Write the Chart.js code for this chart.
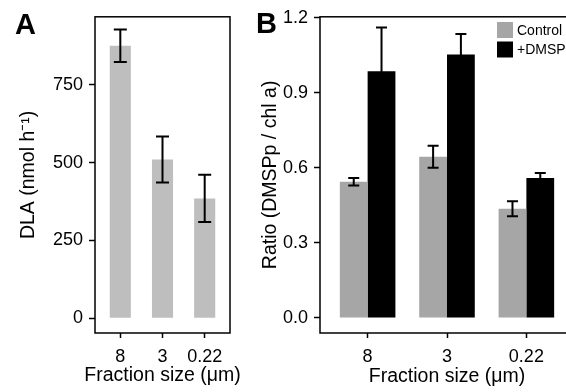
<!DOCTYPE html>
<html>
<head>
<meta charset="utf-8">
<script src="https://cdn.jsdelivr.net/npm/chart.js@4.4.1/dist/chart.umd.min.js"></script>
<style>
  html, body { margin: 0; padding: 0; background: #fff; }
  #wrap { position: relative; width: 566px; height: 392px; overflow: hidden; }
  canvas { position: absolute; top: 0; }
  #chartA { left: 0; }
  #chartB { left: 240px; }
</style>
</head>
<body>
<div id="wrap">
  <canvas id="chartA" width="252" height="392"></canvas>
  <canvas id="chartB" width="340" height="392"></canvas>
</div>
<script>
// data
const categories = ['8', '3', '0.22'];
const dlaMean = [875, 510, 385];
const dlaErr = [52, 74, 76];
const dlaTicks = [0, 250, 500, 750];

const seriesNames = ['Control', '+DMSP'];
const controlMean = [0.545, 0.645, 0.437];
const controlErr = [0.015, 0.044, 0.030];
const dmspMean = [0.986, 1.053, 0.560];
const dmspErr = [0.175, 0.082, 0.020];
const ratioTicks = [0, 0.3, 0.6, 0.9, 1.2];

const FONT = "'Liberation Sans', Arial, Helvetica, sans-serif";
const TICK_SIZE = 18;
const TITLE_SIZE = 19.5;
const X_TITLE = 'Fraction size (μm)';

// error bars on top of the bars
const errorBars = {
  id: 'errorBars',
  afterDatasetsDraw(chart, args, opts) {
    const ctx = chart.ctx;
    const y = chart.scales.y;
    const w = opts.cap / 2;
    ctx.save();
    ctx.strokeStyle = '#000';
    ctx.lineWidth = 2;
    chart.data.datasets.forEach((ds, di) => {
      chart.getDatasetMeta(di).data.forEach((bar, i) => {
        const v = ds.data[i].y, e = ds.err[i];
        const top = y.getPixelForValue(v + e);
        const bot = y.getPixelForValue(v - e);
        ctx.beginPath();
        ctx.moveTo(bar.x, top); ctx.lineTo(bar.x, bot);
        ctx.moveTo(bar.x - w, top); ctx.lineTo(bar.x + w, top);
        ctx.moveTo(bar.x - w, bot); ctx.lineTo(bar.x + w, bot);
        ctx.stroke();
      });
    });
    ctx.restore();
  }
};

// panel box, letter, x title (wider than the panel) and optional legend
const panelDeco = {
  id: 'panelDeco',
  afterDraw(chart, args, opts) {
    const ctx = chart.ctx;
    const a = chart.chartArea;
    ctx.save();
    ctx.strokeStyle = '#000';
    ctx.lineWidth = 1.5;
    ctx.strokeRect(a.left, a.top, a.right - a.left, a.bottom - a.top);

    ctx.fillStyle = '#000';
    ctx.font = 'bold 29px ' + FONT;
    ctx.textBaseline = 'alphabetic';
    ctx.textAlign = 'left';
    ctx.fillText(opts.letter, opts.lx, opts.ly);

    if (opts.xTitle) {
      ctx.font = TITLE_SIZE + 'px ' + FONT;
      ctx.textAlign = 'center';
      ctx.textBaseline = 'middle';
      ctx.fillText(opts.xTitle, (a.left + a.right) / 2, opts.xTitleY);
    }

    if (opts.legend) {
      ctx.font = '14px ' + FONT;
      ctx.textAlign = 'left';
      ctx.textBaseline = 'middle';
      chart.data.datasets.forEach((ds, i) => {
        const ky = opts.legend.y + i * 19.5;
        ctx.fillStyle = ds.backgroundColor;
        ctx.fillRect(opts.legend.x, ky, 16, 16);
        ctx.fillStyle = '#000';
        ctx.fillText(ds.label, opts.legend.x + 20, ky + 9);
      });
    }
    ctx.restore();
  }
};

function gridTicks(len) {
  return { display: true, drawOnChartArea: false, drawTicks: true, offset: false,
           tickLength: len, tickWidth: 1.5, tickColor: '#000' };
}

function xScale(showTitle) {
  return {
    type: 'linear', min: 0.4, max: 3.6, offset: false,
    afterBuildTicks: s => { s.ticks = categories.map((c, i) => ({ value: i + 1 })); },
    afterFit: s => { s.height = 59; },
    grid: gridTicks(5),
    border: { display: false },
    ticks: { color: '#000', font: { family: FONT, size: TICK_SIZE }, padding: 8,
             autoSkip: false, maxRotation: 0, callback: v => categories[Math.round(v) - 1] },
    title: { display: showTitle, text: X_TITLE, color: '#000',
             font: { family: FONT, size: TITLE_SIZE }, padding: { top: 0, bottom: 4 } }
  };
}

function yScale(min, max, tickVals, width, label, titlePad, fmt) {
  return {
    min: min, max: max,
    afterBuildTicks: s => { s.ticks = tickVals.map(v => ({ value: v })); },
    afterFit: s => { s.width = width; },
    grid: gridTicks(6),
    border: { display: false },
    ticks: { color: '#000', font: { family: FONT, size: TICK_SIZE }, padding: 6, callback: fmt },
    title: { display: true, text: label, color: '#000',
             font: { family: FONT, size: TITLE_SIZE }, padding: { top: titlePad, bottom: 0 } }
  };
}

const toPoints = arr => arr.map((v, i) => ({ x: i + 1, y: v }));

new Chart(document.getElementById('chartA'), {
  type: 'bar',
  data: {
    datasets: [{
      label: 'DLA',
      data: toPoints(dlaMean),
      err: dlaErr,
      backgroundColor: '#bebebe',
      borderWidth: 0,
      categoryPercentage: 0.5,
      barPercentage: 1
    }]
  },
  options: {
    responsive: false,
    animation: false,
    layout: { padding: { left: 0, top: 12, right: 22, bottom: 0 }, autoPadding: false },
    scales: {
      x: xScale(false),
      y: yScale(-47, 968, dlaTicks, 95, 'DLA (nmol h⁻¹)', 17, v => String(v))
    },
    plugins: {
      legend: { display: false },
      tooltip: { enabled: false },
      errorBars: { cap: 13 },
      panelDeco: { letter: 'A', lx: 15, ly: 34, xTitle: X_TITLE, xTitleY: 376 }
    }
  },
  plugins: [errorBars, panelDeco]
});

new Chart(document.getElementById('chartB'), {
  type: 'bar',
  data: {
    datasets: [{
      label: seriesNames[0],
      data: toPoints(controlMean),
      err: controlErr,
      backgroundColor: '#a6a6a6',
      borderWidth: 0,
      categoryPercentage: 0.7,
      barPercentage: 1
    }, {
      label: seriesNames[1],
      data: toPoints(dmspMean),
      err: dmspErr,
      backgroundColor: '#000000',
      borderWidth: 0,
      categoryPercentage: 0.7,
      barPercentage: 1
    }]
  },
  options: {
    responsive: false,
    animation: false,
    layout: { padding: { left: 0, top: 14, right: 6, bottom: 0 }, autoPadding: false },
    scales: {
      x: xScale(true),
      y: yScale(-0.06, 1.204, ratioTicks, 80, 'Ratio (DMSPp / chl a)', 19, v => v.toFixed(1))
    },
    plugins: {
      legend: { display: false },
      tooltip: { enabled: false },
      errorBars: { cap: 11 },
      panelDeco: { letter: 'B', lx: 16, ly: 33, legend: { x: 257, y: 22 } }
    }
  },
  plugins: [errorBars, panelDeco]
});
</script>
</body>
</html>
